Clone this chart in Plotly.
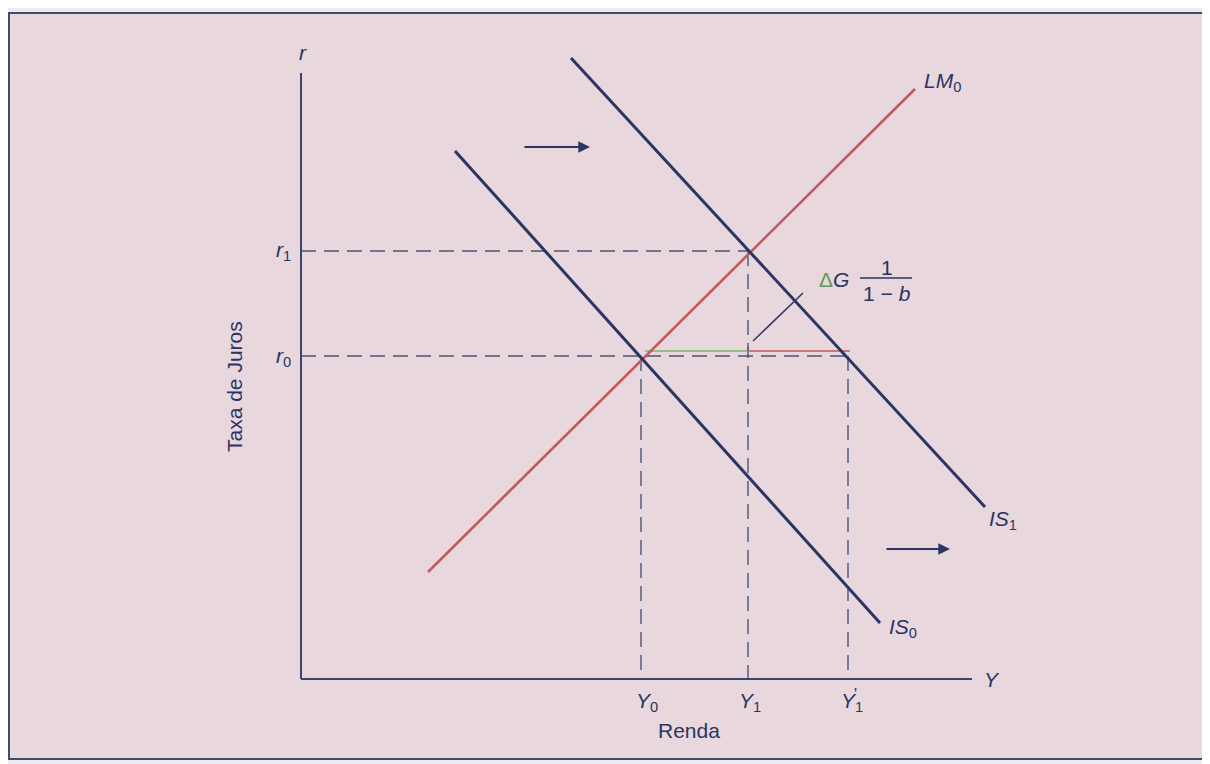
import plotly.graph_objects as go

# ---- data (chart units) ----
lm0_x = [12.7, 61.4]
lm0_y = [10.7, 59.0]
is0_x = [15.4, 57.9]
is0_y = [52.8, 5.6]
is1_x = [27.0, 68.4]
is1_y = [62.1, 17.2]

Y0, Y1, Y1p = 34.0, 44.7, 54.7
r0, r1 = 32.3, 42.8
x_axis_end = 67.1
y_axis_end = 60.6

green_seg_x = [34.4, 44.7]
red_seg_x = [44.7, 54.9]
seg_y = 32.8
leader_x = [45.2, 50.2]
leader_y = [33.8, 38.6]

arrow_top = dict(x0=22.2, x1=28.9, y=53.2)
arrow_bot = dict(x0=58.4, x1=64.9, y=13.0)

NAVY = "#2a3564"
RED = "#c05a5e"
DASH = "#4b5579"
TXT = "#2b3462"
FONT = "Liberation Sans"
FS = 21

fig = go.Figure()

def line(x, y, color, width, dash=None):
    fig.add_trace(go.Scatter(x=x, y=y, mode="lines",
                             line=dict(color=color, width=width, dash=dash),
                             hoverinfo="skip", showlegend=False))

# dashed guides
dash = "15px,8px"
line([0, Y1], [r1, r1], DASH, 1.4, dash)
line([Y1, Y1], [r1, 0], DASH, 1.4, dash)
line([0, Y1p], [r0, r0], DASH, 1.4, dash)
line([Y0, Y0], [r0, 0], DASH, 1.4, dash)
line([Y1p, Y1p], [r0, 0], DASH, 1.4, dash)

# multiplier segment
line(green_seg_x, [seg_y, seg_y], "#7fb36a", 1.5)
line(red_seg_x, [seg_y, seg_y], RED, 1.5)
line([Y1, Y1], [seg_y, seg_y + 0.4], DASH, 1.2)
line(leader_x, leader_y, NAVY, 1.5)

# axes
line([0, 0], [0, y_axis_end], "#3b4670", 2)
line([0, x_axis_end], [0, 0], "#3b4670", 2)

# curves
line(lm0_x, lm0_y, RED, 2.6)
line(is0_x, is0_y, NAVY, 3)
line(is1_x, is1_y, NAVY, 3)

ann = []
def text(x, y, t, size=FS, **kw):
    ann.append(dict(x=x, y=y, xref="x", yref="y", text=t, showarrow=False,
                    font=dict(family=FONT, size=size, color=TXT), **kw))

text(0.2, 62.7, "<i>r</i>")
text(69.1, 0.0, "<i>Y</i>")
text(-1.8, 42.8, "<i>r</i><sub>1</sub>")
text(-1.8, 32.2, "<i>r</i><sub>0</sub>")
text(34.6, -2.3, "<i>Y</i><sub>0</sub>")
text(44.9, -2.3, "<i>Y</i><sub>1</sub>")
text(55.1, -2.3, "<i>Y</i><sub>1</sub>")
text(55.4, -1.5, "'", size=16)
text(38.8, -5.1, "Renda")
text(-6.7, 29.2, "Taxa de Juros", textangle=-90)
text(64.1, 59.7, "<i>LM</i><sub>0</sub>")
text(70.2, 15.9, "<i>IS</i><sub>1</sub>")
text(60.2, 5.1, "<i>IS</i><sub>0</sub>")
text(53.3, 40.0, "<span style='color:#5f9a55'>Δ</span><i>G</i>")
text(58.6, 41.2, "1")
text(58.6, 38.6, "1 − <i>b</i>")

for a in (arrow_top, arrow_bot):
    ann.append(dict(x=a["x1"], y=a["y"], ax=a["x0"], ay=a["y"],
                    xref="x", yref="y", axref="x", ayref="y", text="",
                    showarrow=True, arrowhead=2, arrowsize=1.3,
                    arrowwidth=1.8, arrowcolor=NAVY))

fig.update_layout(
    width=1210, height=764,
    margin=dict(l=0, r=0, t=0, b=0),
    paper_bgcolor="#ececec",
    plot_bgcolor="rgba(0,0,0,0)",
    xaxis=dict(range=[-29.3, 91.7], visible=False, fixedrange=True),
    yaxis=dict(range=[-9.3, 67.1], visible=False, fixedrange=True),
    annotations=ann,
    shapes=[
        dict(type="rect", xref="paper", yref="paper",
             x0=1 / 1210, x1=1.02, y0=1 - 751 / 764, y1=1 - 5 / 764,
             fillcolor="#e8d7dd", line=dict(color="#3f4a72", width=2),
             layer="below"),
        dict(type="line", xref="x", yref="y", x0=55.9, x1=61.1,
             y0=40.1, y1=40.1, line=dict(color=TXT, width=1.5)),
    ],
)

fig.write_html("out.html")
